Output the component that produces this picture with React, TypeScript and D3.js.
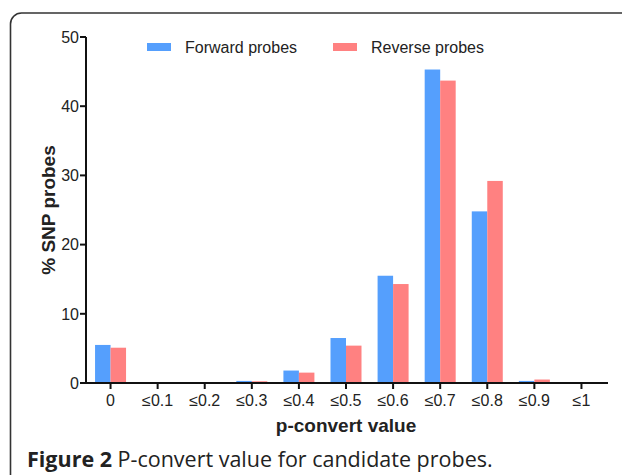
import { useEffect, useRef } from "react";
import * as d3 from "d3";

const categories = ["0", "≤0.1", "≤0.2", "≤0.3", "≤0.4", "≤0.5", "≤0.6", "≤0.7", "≤0.8", "≤0.9", "≤1"];
const forward = [5.5, 0, 0, 0.3, 1.8, 6.5, 15.5, 45.3, 24.8, 0.3, 0];
const reverse = [5.1, 0, 0, 0.25, 1.5, 5.4, 14.3, 43.7, 29.2, 0.5, 0];
const seriesNames = ["Forward probes", "Reverse probes"];
const yTicks = [0, 10, 20, 30, 40, 50];

const colors = ["#559ffd", "#ff8181"];

export default function App() {
  const svgRef = useRef<SVGSVGElement | null>(null);

  useEffect(() => {
    const svg = d3.select(svgRef.current);
    svg.selectAll("*").remove();

    const width = 622;
    const height = 475;
    const font = "Arial, 'Liberation Sans', sans-serif";

    svg.attr("width", width).attr("height", height);

    // outer rounded frame (bottom and right run off the picture)
    svg.append("rect")
      .attr("x", 10.5).attr("y", 13)
      .attr("width", 640).attr("height", 500)
      .attr("rx", 11)
      .attr("fill", "none")
      .attr("stroke", "#333")
      .attr("stroke-width", 1.6);

    const x = d3.scaleBand().domain(categories).range([87, 605]).paddingInner(0);
    const y = d3.scaleLinear().domain([0, 50]).range([383, 37]);
    const barW = 15.5;

    const groups = categories.map((c, i) => ({ c, vals: [forward[i], reverse[i]] }));

    const g = svg.append("g");
    groups.forEach(d => {
      const cx = x(d.c)! + x.bandwidth() / 2;
      d.vals.forEach((v, k) => {
        g.append("rect")
          .attr("x", cx - barW + k * barW)
          .attr("y", y(v))
          .attr("width", barW)
          .attr("height", y(0) - y(v))
          .attr("fill", colors[k]);
      });
    });

    // y axis
    const yAxis = svg.append("g");
    yAxis.append("line")
      .attr("x1", 86).attr("x2", 86)
      .attr("y1", y(50)).attr("y2", y(0) + 1)
      .attr("stroke", "#111").attr("stroke-width", 2);
    yTicks.forEach(t => {
      yAxis.append("line")
        .attr("x1", 80).attr("x2", 86)
        .attr("y1", y(t)).attr("y2", y(t))
        .attr("stroke", "#111").attr("stroke-width", 2);
      yAxis.append("text")
        .attr("x", 79).attr("y", y(t))
        .attr("dy", "0.36em")
        .attr("text-anchor", "end")
        .attr("font-family", font)
        .attr("font-size", 16)
        .attr("fill", "#222")
        .text(t);
    });

    // x axis
    const xAxis = svg.append("g");
    xAxis.append("line")
      .attr("x1", 85).attr("x2", 608)
      .attr("y1", y(0)).attr("y2", y(0))
      .attr("stroke", "#111").attr("stroke-width", 2);
    categories.forEach(c => {
      const cx = x(c)! + x.bandwidth() / 2;
      xAxis.append("line")
        .attr("x1", cx).attr("x2", cx)
        .attr("y1", y(0)).attr("y2", y(0) + 6)
        .attr("stroke", "#111").attr("stroke-width", 2);
      xAxis.append("text")
        .attr("x", cx).attr("y", y(0) + 23)
        .attr("text-anchor", "middle")
        .attr("font-family", font)
        .attr("font-size", 16)
        .attr("fill", "#222")
        .text(c);
    });

    // axis titles
    svg.append("text")
      .attr("x", 346).attr("y", 432)
      .attr("text-anchor", "middle")
      .attr("font-family", font)
      .attr("font-weight", "bold")
      .attr("font-size", 19)
      .attr("fill", "#222")
      .text("p-convert value");

    svg.append("text")
      .attr("transform", "translate(55,210) rotate(-90)")
      .attr("text-anchor", "middle")
      .attr("font-family", font)
      .attr("font-weight", "bold")
      .attr("font-size", 19)
      .attr("fill", "#222")
      .text("% SNP probes");

    // legend
    const legendX = [147, 333];
    seriesNames.forEach((name, k) => {
      svg.append("rect")
        .attr("x", legendX[k]).attr("y", 43)
        .attr("width", 24).attr("height", 8)
        .attr("fill", colors[k]);
      svg.append("text")
        .attr("x", legendX[k] + 38).attr("y", 52.5)
        .attr("font-family", font)
        .attr("font-size", 16)
        .attr("fill", "#222")
        .text(name);
    });

    // caption
    const cap = svg.append("text")
      .attr("x", 27).attr("y", 467)
      .attr("font-family", "'Open Sans', 'Noto Sans', sans-serif")
      .attr("font-size", 21.5)
      .attr("fill", "#222");
    cap.append("tspan").attr("font-weight", "bold").text("Figure 2");
    cap.append("tspan").text(" P-convert value for candidate probes.");
  }, []);

  return (
    <div style={{ position: "absolute", left: 0, top: 0, background: "#fff" }}>
      <svg ref={svgRef} style={{ display: "block" }} />
    </div>
  );
}
